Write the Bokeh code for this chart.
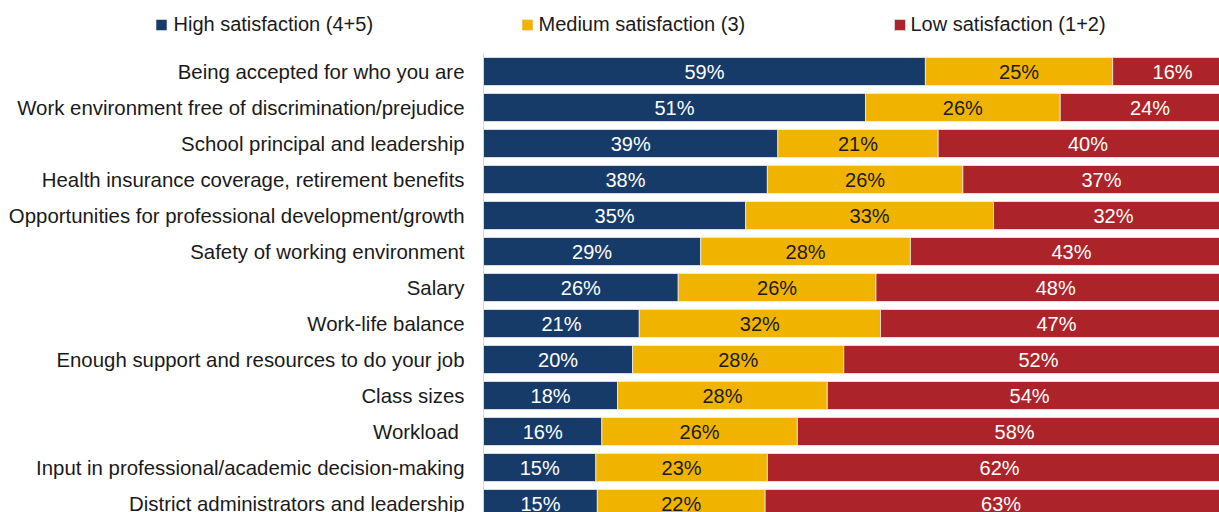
from bokeh.plotting import figure
from bokeh.models import ColumnDataSource, Range1d
from bokeh.core.properties import value
from bokeh.embed import file_html
from bokeh.resources import INLINE

categories = [
    "Being accepted for who you are",
    "Work environment free of discrimination/prejudice",
    "School principal and leadership",
    "Health insurance coverage, retirement benefits",
    "Opportunities for professional development/growth",
    "Safety of working environment",
    "Salary",
    "Work-life balance",
    "Enough support and resources to do your job",
    "Class sizes",
    "Workload ",
    "Input in professional/academic decision-making",
    "District administrators and leadership",
]
high = [59.0, 51.0, 39.3, 37.9, 35.0, 29.0, 26.0, 20.8, 19.9, 17.9, 15.8, 15.0, 15.2]
medium = [25.0, 26.0, 21.4, 26.1, 33.1, 28.0, 26.4, 32.2, 28.2, 28.0, 26.1, 22.9, 22.4]
low = [16, 24, 40, 37, 32, 43, 48, 47, 52, 54, 58, 62, 63]
series_names = ["High satisfaction (4+5)", "Medium satisfaction (3)", "Low satisfaction (1+2)"]
colors = ["#173B69", "#F0B400", "#AC2429"]
text_colors = ["#FFFFFF", "#1A1A1A", "#FFFFFF"]

FONT = "Liberation Sans"
FS = "20px"
n = len(categories)
rows = list(range(n))

# screen geometry: x=0 at px 483, 7.49 px per %, row i centred at px 71 + 36*i
PXX = 7.49
X0 = 483.0
PXY = 36.0
Y0 = 71.0
W, H = 1219, 512

def sx(px):
    return (px - X0) / PXX

def sy(py):
    return (py - Y0) / PXY

p = figure(width=W, height=H, output_backend="svg", toolbar_location=None,
           x_range=Range1d(sx(0), sx(W)), y_range=Range1d(sy(H), sy(0)),
           min_border_left=0, min_border_right=0, min_border_top=0, min_border_bottom=0)
p.outline_line_color = None
p.grid.visible = False
p.axis.visible = False
p.background_fill_color = "white"
p.border_fill_color = "white"

# category axis line
p.segment(x0=[0], y0=[sy(53)], x1=[0], y1=[sy(H)], line_color="#D9D9D9", line_width=1)

# category labels
p.text(x=[sx(464)] * n, y=rows, text=categories, text_align="right", text_baseline="middle",
       text_font=value(FONT), text_font_size="20.4px", text_color="#1A1A1A")

lefts = [0.0] * n
for vals, col, tcol in zip([high, medium, low], colors, text_colors):
    rights = [l + v for l, v in zip(lefts, vals)]
    src = ColumnDataSource(dict(
        y=rows, left=lefts, right=rights,
        cx=[(l + r) / 2 for l, r in zip(lefts, rights)],
        lbl=["%d%%" % round(v) for v in vals],
    ))
    p.hbar(y="y", left="left", right="right", height=28 / PXY, source=src,
           fill_color=col, line_color="#E8ECF2", line_width=0.8)
    p.text(x="cx", y="y", text="lbl", source=src, text_align="center",
           text_baseline="middle", text_font=value(FONT), text_font_size=FS,
           text_color=tcol)
    lefts = rights

# legend
marker_px = [161, 527, 899.5]
text_px = [173, 538, 910]
p.scatter(x=[sx(m) for m in marker_px], y=[sy(24.5)] * 3, marker="square", size=11,
          fill_color=colors, line_color="#E8ECF2", line_width=0.6)
p.text(x=[sx(t) for t in text_px], y=[sy(23.5)] * 3, text=series_names, text_align="left",
       text_baseline="middle", text_font=value(FONT), text_font_size=FS,
       text_color="#1A1A1A")

open("out.html", "w").write(file_html(p, INLINE))
